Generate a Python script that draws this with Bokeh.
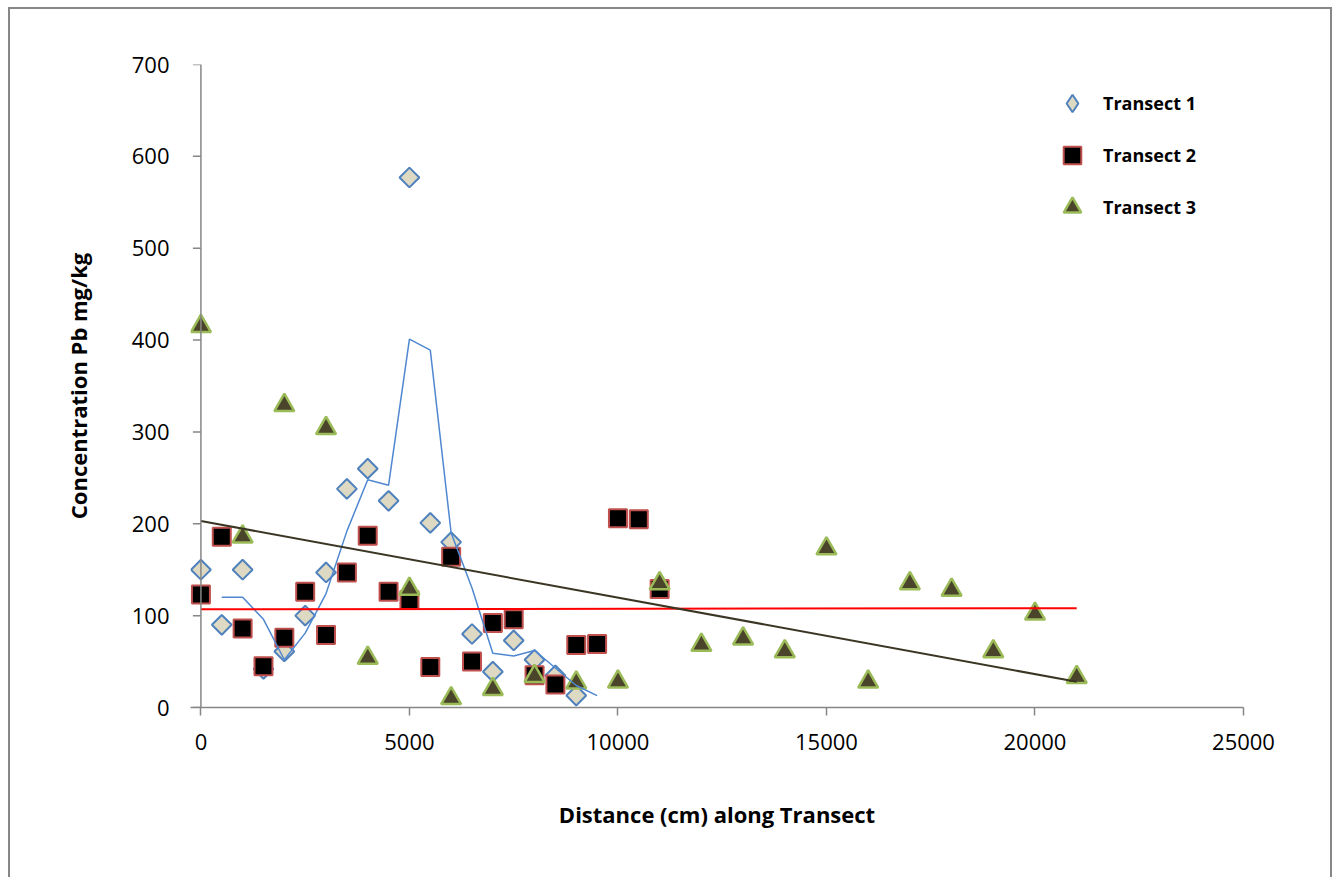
import math
from bokeh.plotting import figure
from bokeh.models import Range1d, Legend, LegendItem, Span, FixedTicker
from bokeh.embed import file_html
from bokeh.resources import INLINE

# ---- data ----
t1_x = [0, 500, 1000, 1500, 2000, 2500, 3000, 3500, 4000, 4500, 5000, 5500,
        6000, 6500, 7000, 7500, 8000, 8500, 9000]
t1_y = [150, 90, 150, 42, 61, 100, 147, 238, 260, 225, 577, 201,
        180, 80, 39, 73, 52, 35, 13]

t2_x = [0, 500, 1000, 1500, 2000, 2500, 3000, 3500, 4000, 4500, 5000, 5500,
        6000, 6500, 7000, 7500, 8000, 8500, 9000, 9500, 10000, 10500, 11000]
t2_y = [123, 186, 86, 45, 76, 126, 79, 147, 187, 126, 117, 44,
        164, 50, 92, 96, 35, 25, 68, 69, 206, 205, 129]

t3_x = [0, 1000, 2000, 3000, 4000, 5000, 6000, 7000, 8000, 9000, 10000,
        11000, 12000, 13000, 14000, 15000, 16000, 17000, 18000, 19000, 20000, 21000]
t3_y = [415, 186, 329, 304, 54, 129, 10, 20, 34, 27, 28,
        135, 68, 75, 61, 173, 28, 135, 128, 61, 102, 33]

# 2-period moving average of Transect 1 (as drawn)
ma1_x = [500, 1000, 1500, 2000, 2500, 3000, 3500, 4000, 4500, 5000, 5500,
         6000, 6500, 7000, 7500, 8000, 8500, 9000, 9500]
ma1_y = [120, 120, 96, 52, 81, 124, 192, 248, 242, 401, 389,
         190, 130, 59, 56, 62, 43, 24, 13]

# linear trendlines (as drawn)
tr2_x = [0, 21000]
tr2_y = [107, 108]
tr3_x = [0, 21000]
tr3_y = [203, 28]

x_ticks = [0, 5000, 10000, 15000, 20000, 25000]
y_ticks = [0, 100, 200, 300, 400, 500, 600, 700]

AXIS_GREY = "#868686"
FONT = "Open Sans"

X_START, X_END = -250, 25000
FRAME_W = 1339 - 190 - 96

p = figure(width=1339, height=877, output_backend="svg", toolbar_location=None,
           x_range=Range1d(X_START, X_END), y_range=Range1d(0, 700),
           min_border_left=190, min_border_right=96, min_border_top=64,
           min_border_bottom=170)
p.background_fill_color = "white"
p.border_fill_alpha = 0
p.outline_line_color = None
p.xgrid.grid_line_color = None
p.ygrid.grid_line_color = None

# outer chart border (top, left, right) drawn as the page element background
G = "linear-gradient(#878787,#878787)"
p.styles = {
    "background-color": "white",
    "background-image": f"{G}, {G}, {G}",
    "background-position": "8px 7px, 8px 7px, 1330px 7px",
    "background-size": "2px 880px, 1324px 2px, 2px 880px",
    "background-repeat": "no-repeat",
}

# axes
for ax in (p.xaxis[0], p.yaxis[0]):
    ax.major_label_text_font = FONT
    ax.major_label_text_font_size = "22px"
    ax.major_label_text_color = "black"
    ax.axis_label_text_font = FONT
    ax.axis_label_text_font_size = "22px"
    ax.axis_label_text_font_style = "bold"
    ax.axis_label_text_color = "black"
    ax.minor_tick_line_color = None

xa = p.xaxis[0]
xa.axis_line_color = AXIS_GREY
xa.axis_line_width = 1.5
xa.major_tick_line_color = AXIS_GREY
xa.major_tick_line_width = 1.5
xa.major_tick_out = 8
xa.major_tick_in = 0
xa.ticker = FixedTicker(ticks=x_ticks)
xa.axis_label = "Distance (cm) along Transect"
xa.major_label_standoff = 18
xa.axis_label_standoff = 46

ya = p.yaxis[0]
ya.axis_line_color = None
ya.major_tick_line_color = None
ya.ticker = FixedTicker(ticks=y_ticks)
ya.axis_label = "Concentration Pb mg/kg"
ya.major_label_standoff = 15
ya.axis_label_standoff = 36

# vertical axis line at x = 0 with outward ticks
p.add_layout(Span(location=0, dimension="height", line_color=AXIS_GREY, line_width=1.5))
tick_units = 8 * (X_END - X_START) / FRAME_W
p.segment(x0=[-tick_units] * len(y_ticks), x1=[0] * len(y_ticks),
          y0=y_ticks, y1=y_ticks, line_color=AXIS_GREY, line_width=1.5)

# markers
r1 = p.scatter(t1_x, t1_y, marker="square", size=14, angle=math.pi / 4,
               fill_color="#DDD9C3", line_color="#4F81BD", line_width=2)
r2 = p.scatter(t2_x, t2_y, marker="square", size=18,
               fill_color="black", line_color="#C0504D", line_width=2)
r3 = p.scatter(t3_x, t3_y, marker="triangle", size=20,
               fill_color="#4A452A", line_color="#9BBB59", line_width=2.5)

# trend lines
p.line(ma1_x, ma1_y, line_color="#4F87D0", line_width=1.5)
p.line(tr2_x, tr2_y, line_color="#FF0000", line_width=2)
p.line(tr3_x, tr3_y, line_color="#3B3624", line_width=2)

# legend-only glyph for the diamond symbol (a single non-drawn point)
r1_leg = p.scatter(x=[float("nan")], y=[float("nan")], marker="diamond", size=14,
                   fill_color="#DDD9C3", line_color="#4F81BD", line_width=2)

legend = Legend(items=[
    LegendItem(label="Transect 1", renderers=[r1_leg]),
    LegendItem(label="Transect 2", renderers=[r2]),
    LegendItem(label="Transect 3", renderers=[r3]),
], location=(860, 478))
legend.glyph_width = 44
legend.glyph_height = 44
legend.spacing = 8
legend.padding = 0
legend.margin = 0
legend.label_standoff = 9
legend.label_text_font = FONT
legend.label_text_font_size = "18px"
legend.label_text_font_style = "bold"
legend.label_text_color = "black"
legend.border_line_color = None
legend.background_fill_alpha = 0
p.add_layout(legend)

open("out.html", "w").write(file_html(p, INLINE))
